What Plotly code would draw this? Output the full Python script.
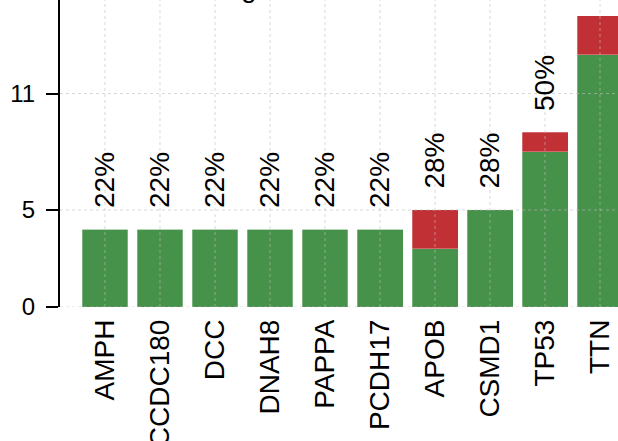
import plotly.graph_objects as go

# Mutation counts per gene (18 samples in the cohort)
genes = ["AMPH", "CCDC180", "DCC", "DNAH8", "PAPPA", "PCDH17", "APOB", "CSMD1", "TP53", "TTN"]
missense = [4, 4, 4, 4, 4, 4, 3, 5, 8, 13]
truncating = [0, 0, 0, 0, 0, 0, 2, 0, 1, 2]
n_samples = 18
y_ticks = [0, 5, 11]

GREEN = "#47924a"
RED = "#c03035"
FONT = "Liberation Sans, Arial, sans-serif"

totals = [m + t for m, t in zip(missense, truncating)]
pct_labels = [f"{round(100 * t / n_samples)}%" for t in totals]

fig = go.Figure()
fig.add_trace(go.Bar(
    x=genes, y=missense, name="Missense",
    marker=dict(color=GREEN, line=dict(color="rgba(255,255,255,0.35)", width=0.8)),
))
fig.add_trace(go.Bar(
    x=genes, y=truncating, name="Truncating",
    marker=dict(color=RED, line=dict(color="rgba(255,255,255,0.35)", width=0.8)),
))

# Frequency labels above each stacked bar
for g, tot, lab in zip(genes, totals, pct_labels):
    fig.add_annotation(
        x=g, y=tot + 1, text=lab, textangle=-90,
        xanchor="center", yanchor="bottom", showarrow=False,
        font=dict(family=FONT, size=28, color="black"),
    )

# Dotted grid drawn over the bars
grid_style = dict(color="rgba(190,190,190,0.6)", width=1, dash="dot")
for v in y_ticks:
    fig.add_shape(type="line", xref="paper", yref="y", x0=0, x1=1, y0=v, y1=v,
                  line=grid_style, layer="above")
for g in genes:
    fig.add_shape(type="line", xref="x", yref="paper", x0=g, x1=g, y0=0, y1=1,
                  line=grid_style, layer="above")

# Title line (sits above the plotting region)
fig.add_annotation(
    xref="paper", yref="paper", x=0.1255, y=1, xanchor="left", yanchor="bottom",
    yshift=-5, text="Mutated genes", showarrow=False,
    font=dict(family=FONT, size=28, color="black"),
)

fig.update_layout(
    width=618, height=441,
    margin=dict(l=60, r=0, t=0, b=134),
    barmode="stack", bargap=0.164,
    plot_bgcolor="white", paper_bgcolor="white",
    showlegend=False,
    font=dict(family=FONT, color="black"),
)
fig.update_xaxes(
    range=[-0.818, 9.327], showgrid=False, showline=False, zeroline=False,
    ticks="", tickangle=-90, tickfont=dict(size=28), ticklabelstandoff=6,
    automargin=False,
)
fig.update_yaxes(
    range=[0, 15.82], tickvals=y_ticks, showgrid=False, zeroline=False,
    showline=True, linecolor="black", linewidth=2,
    ticks="outside", ticklen=12, tickwidth=2, tickcolor="black",
    tickfont=dict(size=24), ticklabelstandoff=6, automargin=False,
)

fig.write_html("out.html")
